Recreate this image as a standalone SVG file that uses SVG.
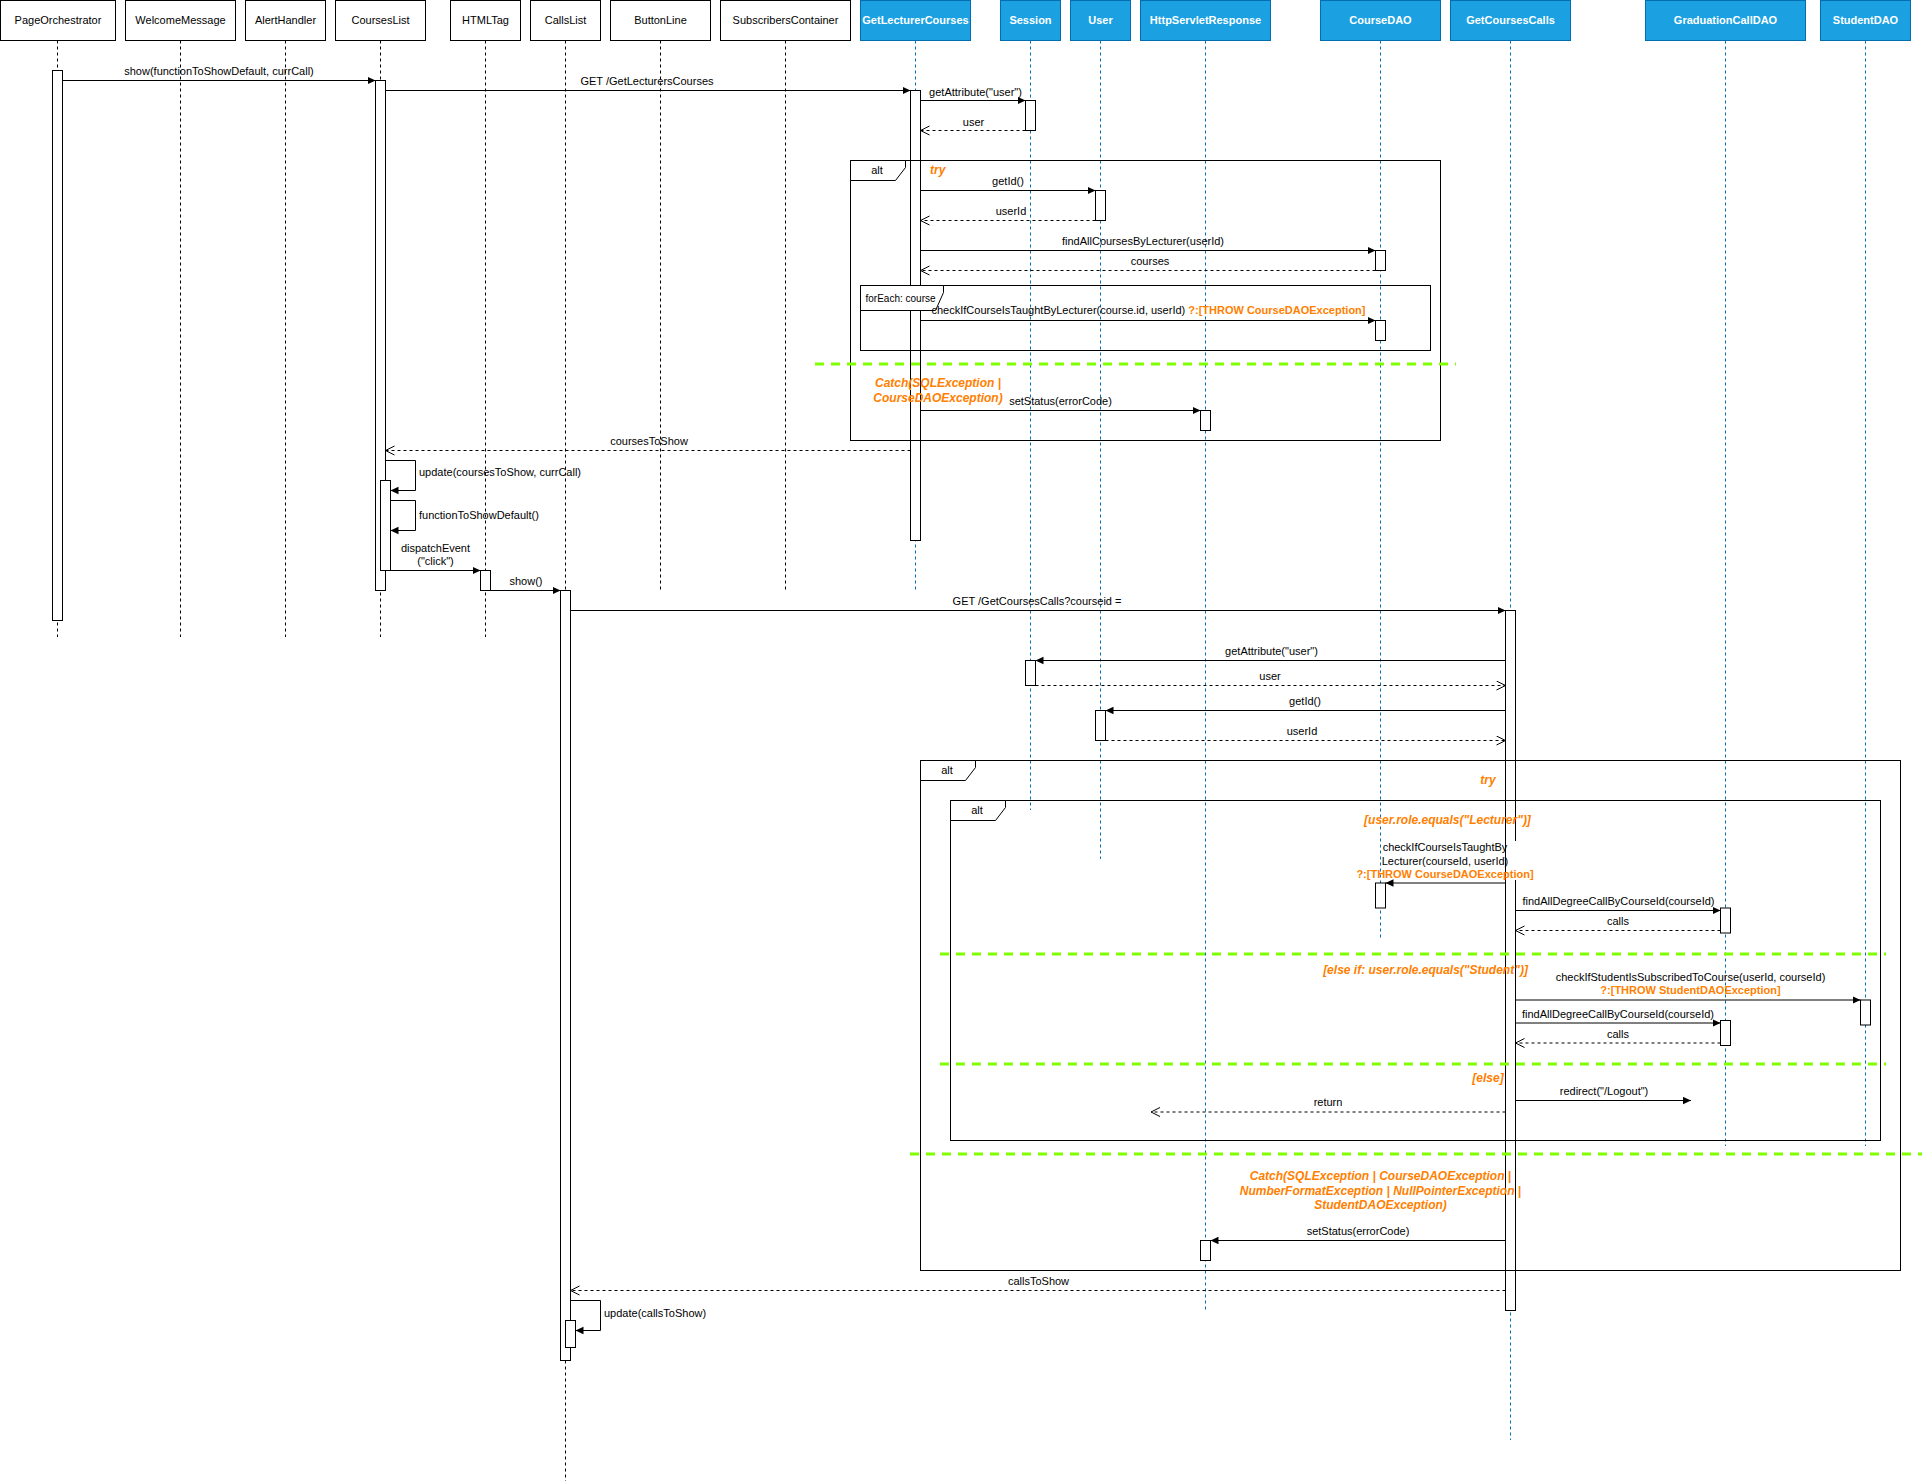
<svg xmlns="http://www.w3.org/2000/svg" width="1922" height="1481" viewBox="0 0 1922 1481">
<style>
text{font-family:"Liberation Sans",Arial,sans-serif;font-size:11px;fill:#000}
.c{text-anchor:middle}
.box{fill:#fff;stroke:#000}
.bbox{fill:#1BA1E2;stroke:#006EAF}
.bt{fill:#fff;font-weight:bold}
.ll{stroke:#000;stroke-dasharray:3 3;fill:none}
.bll{stroke:#006EAF;stroke-dasharray:3 3;fill:none}
.act{fill:#fff;stroke:#000}
.msg{stroke:#000;fill:none;marker-end:url(#ab)}
.ret{stroke:#000;fill:none;stroke-dasharray:3 3;marker-end:url(#ao)}
.fr{fill:none;stroke:#000}
.tab{fill:#fff;stroke:#000}
.sep{stroke:#80FF00;stroke-width:3;stroke-dasharray:9 7;fill:none}
.o{fill:#FF8000;font-weight:bold}
.g{fill:#FF8000;font-weight:bold;font-style:italic;font-size:12px}
</style>
<defs>
<marker id="ab" markerUnits="userSpaceOnUse" markerWidth="10" markerHeight="10" refX="8" refY="4" orient="auto"><path d="M0,0.3 L8,4 L0,7.7 Z" fill="#000"/></marker>
<marker id="ao" markerUnits="userSpaceOnUse" markerWidth="12" markerHeight="12" refX="9.5" refY="5" orient="auto"><path d="M0.5,0.5 L9.5,5 L0.5,9.5" fill="none" stroke="#000"/></marker>
</defs>
<rect width="1922" height="1481" fill="#fff"/>

<!-- participants -->
<g id="PageOrchestrator"><line class="ll" x1="57.5" y1="40.5" x2="57.5" y2="637"/><rect class="box" x="0.5" y="0.5" width="115" height="40"/><text class="c" x="58" y="24">PageOrchestrator</text><rect class="act" x="52.5" y="70.5" width="10" height="550"/></g>
<g id="WelcomeMessage"><line class="ll" x1="180.5" y1="40.5" x2="180.5" y2="637"/><rect class="box" x="125.5" y="0.5" width="110" height="40"/><text class="c" x="180.5" y="24">WelcomeMessage</text></g>
<g id="AlertHandler"><line class="ll" x1="285.5" y1="40.5" x2="285.5" y2="637"/><rect class="box" x="245.5" y="0.5" width="80" height="40"/><text class="c" x="285.5" y="24">AlertHandler</text></g>
<g id="CoursesList"><line class="ll" x1="380.5" y1="40.5" x2="380.5" y2="637"/><rect class="box" x="335.5" y="0.5" width="90" height="40"/><text class="c" x="380.5" y="24">CoursesList</text><rect class="act" x="375.5" y="80.5" width="10" height="510"/><rect class="act" x="380.5" y="480.5" width="10" height="90"/></g>
<g id="HTMLTag"><line class="ll" x1="485.5" y1="40.5" x2="485.5" y2="637"/><rect class="box" x="450.5" y="0.5" width="70" height="40"/><text class="c" x="485.5" y="24">HTMLTag</text><rect class="act" x="480.5" y="570.5" width="10" height="20"/></g>
<g id="CallsList"><line class="ll" x1="565.5" y1="40.5" x2="565.5" y2="1481"/><rect class="box" x="530.5" y="0.5" width="70" height="40"/><text class="c" x="565.5" y="24">CallsList</text><rect class="act" x="560.5" y="590.5" width="10" height="770"/><rect class="act" x="565.5" y="1320.5" width="10" height="27"/></g>
<g id="ButtonLine"><line class="ll" x1="660.5" y1="40.5" x2="660.5" y2="590"/><rect class="box" x="610.5" y="0.5" width="100" height="40"/><text class="c" x="660.5" y="24">ButtonLine</text></g>
<g id="SubscribersContainer"><line class="ll" x1="785.5" y1="40.5" x2="785.5" y2="590"/><rect class="box" x="720.5" y="0.5" width="130" height="40"/><text class="c" x="785.5" y="24">SubscribersContainer</text></g>
<g id="GetLecturerCourses"><line class="bll" x1="915.5" y1="40.5" x2="915.5" y2="590"/><rect class="bbox" x="860.5" y="0.5" width="110" height="40"/><text class="c bt" x="915.5" y="24">GetLecturerCourses</text><rect class="act" x="910.5" y="90.5" width="10" height="450"/></g>
<g id="Session"><line class="bll" x1="1030.5" y1="40.5" x2="1030.5" y2="810"/><rect class="bbox" x="1000.5" y="0.5" width="60" height="40"/><text class="c bt" x="1030.5" y="24">Session</text><rect class="act" x="1025.5" y="100.5" width="10" height="30"/><rect class="act" x="1025.5" y="660.5" width="10" height="25"/></g>
<g id="User"><line class="bll" x1="1100.5" y1="40.5" x2="1100.5" y2="859"/><rect class="bbox" x="1070.5" y="0.5" width="60" height="40"/><text class="c bt" x="1100.5" y="24">User</text><rect class="act" x="1095.5" y="190.5" width="10" height="30"/><rect class="act" x="1095.5" y="710.5" width="10" height="30"/></g>
<g id="HttpServletResponse"><line class="bll" x1="1205.5" y1="40.5" x2="1205.5" y2="1310"/><rect class="bbox" x="1140.5" y="0.5" width="130" height="40"/><text class="c bt" x="1205.5" y="24">HttpServletResponse</text><rect class="act" x="1200.5" y="410.5" width="10" height="20"/><rect class="act" x="1200.5" y="1240.5" width="10" height="20"/></g>
<g id="CourseDAO"><line class="bll" x1="1380.5" y1="40.5" x2="1380.5" y2="938"/><rect class="bbox" x="1320.5" y="0.5" width="120" height="40"/><text class="c bt" x="1380.5" y="24">CourseDAO</text><rect class="act" x="1375.5" y="250.5" width="10" height="20"/><rect class="act" x="1375.5" y="320.5" width="10" height="20"/><rect class="act" x="1375.5" y="883" width="10" height="25"/></g>
<g id="GetCoursesCalls"><line class="bll" x1="1510.5" y1="40.5" x2="1510.5" y2="1440"/><rect class="bbox" x="1450.5" y="0.5" width="120" height="40"/><text class="c bt" x="1510.5" y="24">GetCoursesCalls</text><rect class="act" x="1505.5" y="610.5" width="10" height="700"/></g>
<g id="GraduationCallDAO"><line class="bll" x1="1725.5" y1="40.5" x2="1725.5" y2="1146"/><rect class="bbox" x="1645.5" y="0.5" width="160" height="40"/><text class="c bt" x="1725.5" y="24">GraduationCallDAO</text><rect class="act" x="1720.5" y="908" width="10" height="25"/><rect class="act" x="1720.5" y="1020.5" width="10" height="25"/></g>
<g id="StudentDAO"><line class="bll" x1="1865.5" y1="40.5" x2="1865.5" y2="1146"/><rect class="bbox" x="1820.5" y="0.5" width="90" height="40"/><text class="c bt" x="1865.5" y="24">StudentDAO</text><rect class="act" x="1860.5" y="1000" width="10" height="25"/></g>

<!-- frames -->
<g id="frame-alt1">
<rect class="fr" x="850.5" y="160.5" width="590" height="280"/>
<path class="tab" d="M850.5,160.5 H905.5 V167.5 L895.5,180.5 H850.5 Z"/>
<text class="c" x="877" y="174">alt</text>
<text class="g" x="930" y="174">try</text>
</g>
<g id="frame-foreach">
<rect class="fr" x="860.5" y="285.5" width="570" height="65"/>
<path class="tab" d="M860.5,285.5 H943.5 V292.5 L935.5,310.5 H860.5 Z"/>
<text x="865.5" y="301.5" style="font-size:10px">forEach: course</text>
</g>
<g id="frame-alt2">
<rect class="fr" x="920.5" y="760.5" width="980" height="510"/>
<path class="tab" d="M920.5,760.5 H975.5 V767.5 L965.5,780.5 H920.5 Z"/>
<text class="c" x="947" y="774">alt</text>
<text class="g c" x="1488" y="784">try</text>
</g>
<g id="frame-alt3">
<rect class="fr" x="950.5" y="800.5" width="930" height="340"/>
<path class="tab" d="M950.5,800.5 H1005.5 V807.5 L995.5,820.5 H950.5 Z"/>
<text class="c" x="977" y="814">alt</text>
</g>

<!-- separators and guards -->
<g id="guards">
<line class="sep" x1="815" y1="364" x2="1456" y2="364"/>
<line class="sep" x1="940" y1="954" x2="1886" y2="954"/>
<line class="sep" x1="940" y1="1064" x2="1886" y2="1064"/>
<line class="sep" x1="910" y1="1154" x2="1922" y2="1154"/>
<text class="g c" x="938" y="387">Catch(SQLException |</text>
<text class="g c" x="938" y="402">CourseDAOException)</text>
<text class="g c" x="1447.5" y="824">[user.role.equals("Lecturer")]</text>
<text class="g c" x="1425.5" y="974">[else if: user.role.equals("Student")]</text>
<text class="g c" x="1488" y="1082">[else]</text>
<text class="g c" x="1380.5" y="1180">Catch(SQLException | CourseDAOException |</text>
<text class="g c" x="1380.5" y="1194.5">NumberFormatException | NullPointerException |</text>
<text class="g c" x="1380.5" y="1209">StudentDAOException)</text>
</g>

<!-- connectors -->
<g id="connectors">
<line class="msg" x1="62.5" y1="80.5" x2="375.5" y2="80.5"/>
<text class="c" x="219" y="75">show(functionToShowDefault, currCall)</text>
<line class="msg" x1="385.5" y1="90.5" x2="910.5" y2="90.5"/>
<text class="c" x="647" y="85">GET /GetLecturersCourses</text>
<line class="msg" x1="920.5" y1="100.5" x2="1025.5" y2="100.5"/>
<text class="c" x="975.5" y="96">getAttribute("user")</text>
<line class="ret" x1="1025.5" y1="130.5" x2="920.5" y2="130.5"/>
<text class="c" x="973.5" y="126">user</text>
<line class="msg" x1="920.5" y1="190.5" x2="1095.5" y2="190.5"/>
<text class="c" x="1008" y="185">getId()</text>
<line class="ret" x1="1095.5" y1="220.5" x2="920.5" y2="220.5"/>
<text class="c" x="1011" y="215">userId</text>
<line class="msg" x1="920.5" y1="250.5" x2="1375.5" y2="250.5"/>
<text class="c" x="1143" y="245">findAllCoursesByLecturer(userId)</text>
<line class="ret" x1="1375.5" y1="270.5" x2="920.5" y2="270.5"/>
<text class="c" x="1150" y="265">courses</text>
<line class="msg" x1="920.5" y1="320.5" x2="1375.5" y2="320.5"/>
<text x="931.5" y="314">checkIfCourseIsTaughtByLecturer(course.id, userId) <tspan class="o">?:[THROW CourseDAOException]</tspan></text>
<line class="msg" x1="920.5" y1="410.5" x2="1200.5" y2="410.5"/>
<text class="c" x="1060.5" y="405">setStatus(errorCode)</text>
<line class="ret" x1="910.5" y1="450.5" x2="385.5" y2="450.5"/>
<text class="c" x="649" y="445">coursesToShow</text>
<path class="msg" d="M385.5,460.5 H415.5 V490.5 H390.5"/>
<text x="419" y="476">update(coursesToShow, currCall)</text>
<path class="msg" d="M390.5,500.5 H415.5 V530.5 H390.5"/>
<text x="419" y="519">functionToShowDefault()</text>
<line class="msg" x1="390.5" y1="570.5" x2="480.5" y2="570.5"/>
<text class="c" x="435.5" y="552">dispatchEvent</text>
<text class="c" x="435.5" y="565">("click")</text>
<line class="msg" x1="490.5" y1="590.5" x2="560.5" y2="590.5"/>
<text class="c" x="526" y="585">show()</text>
<line class="msg" x1="570.5" y1="610.5" x2="1505.5" y2="610.5"/>
<text class="c" x="1037" y="605">GET /GetCoursesCalls?courseid =</text>
<line class="msg" x1="1505.5" y1="660.5" x2="1035.5" y2="660.5"/>
<text class="c" x="1271.5" y="655">getAttribute("user")</text>
<line class="ret" x1="1035.5" y1="685.5" x2="1505.5" y2="685.5"/>
<text class="c" x="1270" y="680">user</text>
<line class="msg" x1="1505.5" y1="710.5" x2="1105.5" y2="710.5"/>
<text class="c" x="1305" y="705">getId()</text>
<line class="ret" x1="1105.5" y1="740.5" x2="1505.5" y2="740.5"/>
<text class="c" x="1302" y="735">userId</text>
<rect x="1507" y="841" width="27" height="39" fill="#fff"/>
<line class="msg" x1="1505.5" y1="883" x2="1385.5" y2="883"/>
<text class="c" x="1445" y="851">checkIfCourseIsTaughtBy</text>
<text class="c" x="1445" y="865">Lecturer(courseId, userId)</text>
<text class="c o" x="1445" y="878">?:[THROW CourseDAOException]</text>
<line class="msg" x1="1515.5" y1="910.5" x2="1720.5" y2="910.5"/>
<text class="c" x="1618.5" y="905">findAllDegreeCallByCourseId(courseId)</text>
<line class="ret" x1="1720.5" y1="930.5" x2="1515.5" y2="930.5"/>
<text class="c" x="1618" y="925">calls</text>
<line class="msg" x1="1515.5" y1="1000" x2="1860.5" y2="1000"/>
<text class="c" x="1690.5" y="981">checkIfStudentIsSubscribedToCourse(userId, courseId)</text>
<text class="c o" x="1690.5" y="994">?:[THROW StudentDAOException]</text>
<line class="msg" x1="1515.5" y1="1023" x2="1720.5" y2="1023"/>
<text class="c" x="1618" y="1017.5">findAllDegreeCallByCourseId(courseId)</text>
<line class="ret" x1="1720.5" y1="1043" x2="1515.5" y2="1043"/>
<text class="c" x="1618" y="1038">calls</text>
<line class="msg" x1="1515.5" y1="1100.5" x2="1691" y2="1100.5"/>
<text class="c" x="1604" y="1095">redirect("/Logout")</text>
<line class="ret" x1="1505.5" y1="1112" x2="1151" y2="1112"/>
<text class="c" x="1328" y="1106">return</text>
<line class="msg" x1="1505.5" y1="1240.5" x2="1210.5" y2="1240.5"/>
<text class="c" x="1358" y="1235">setStatus(errorCode)</text>
<line class="ret" x1="1505.5" y1="1290.5" x2="570.5" y2="1290.5"/>
<text class="c" x="1038.5" y="1285">callsToShow</text>
<path class="msg" d="M570.5,1300.5 H600.5 V1330.5 H575.5"/>
<text x="604" y="1317">update(callsToShow)</text>
</g>
</svg>
